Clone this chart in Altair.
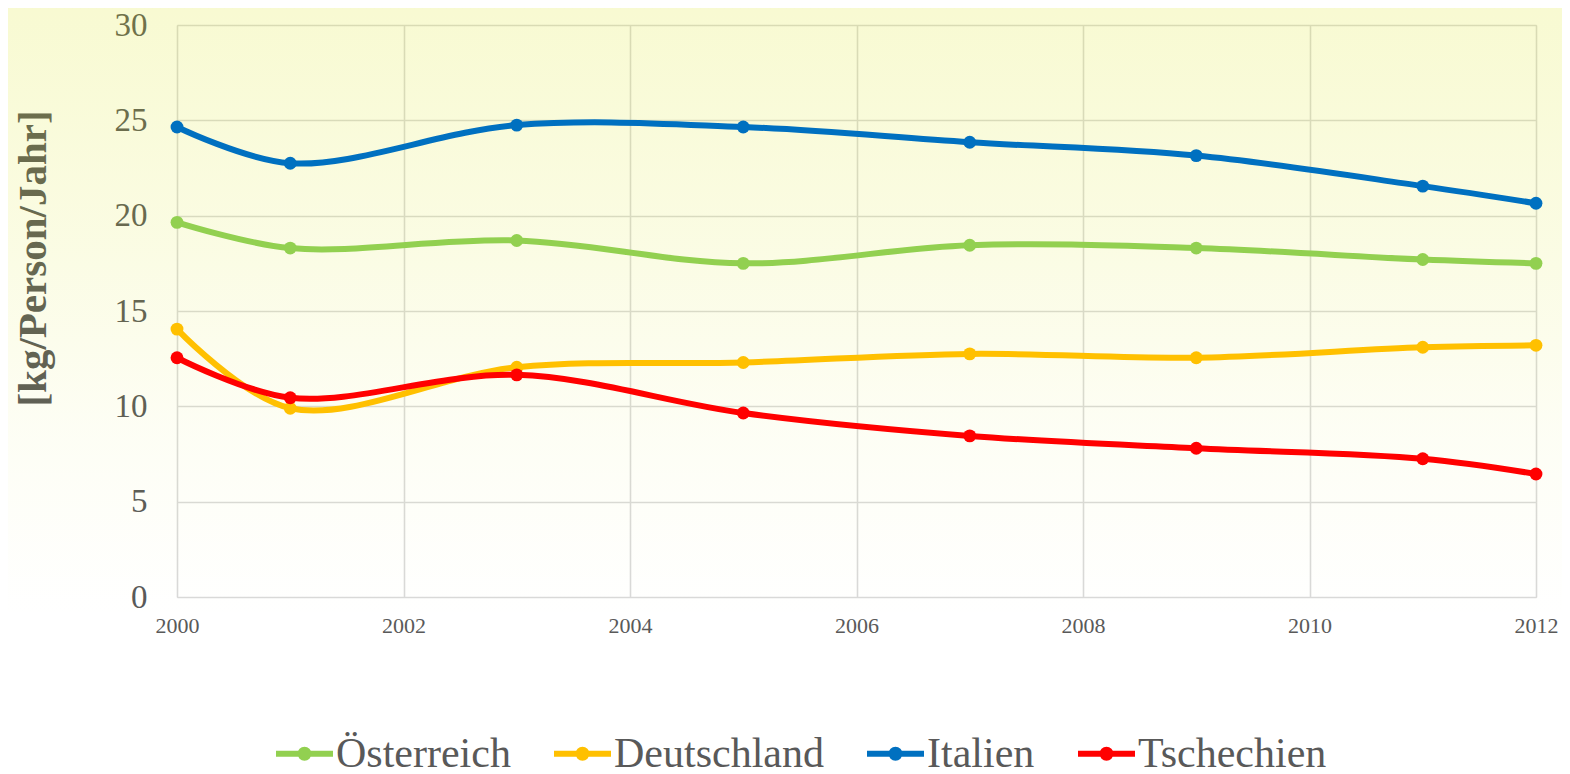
import altair as alt
import pandas as pd

years = [2000, 2001, 2003, 2005, 2007, 2009, 2011, 2012]
countries = ["Österreich", "Deutschland", "Italien", "Tschechien"]
colors = ["#92D050", "#FFC000", "#0070C0", "#FF0000"]
oesterreich = [19.65, 18.3, 18.7, 17.5, 18.45, 18.3, 17.7, 17.5]
deutschland = [14.05, 9.9, 12.05, 12.3, 12.75, 12.55, 13.1, 13.2]
italien = [24.65, 22.75, 24.75, 24.65, 23.85, 23.15, 21.55, 20.65]
tschechien = [12.55, 10.45, 11.65, 9.65, 8.45, 7.8, 7.25, 6.45]
y_ticks = [0, 5, 10, 15, 20, 25, 30]
x_ticks = [2000, 2002, 2004, 2006, 2008, 2010, 2012]

series = [oesterreich, deutschland, italien, tschechien]
rows = []
for c, vals in zip(countries, series):
    for yr, v in zip(years, vals):
        rows.append({"Jahr": yr, "Wert": v, "Land": c})
df = pd.DataFrame(rows)

W, H = 1359, 572
PL, PT, PR, PB = 169, 17, 26, 177
FONT = "Liberation Serif"
GREY = "#595959"
GRID = "#D9D9D9"

xs = alt.Scale(domain=[2000, 2012], nice=False, zero=False)
ys = alt.Scale(domain=[0, 30], nice=False)
cs = alt.Scale(domain=countries, range=colors)

# translucent yellow wash, drawn above the (behind-the-marks) axes and below the lines
grad = alt.LinearGradient(
    gradient="linear",
    stops=[
        alt.GradientStop(color="rgba(216,227,5,0.18)", offset=0),
        alt.GradientStop(color="rgba(216,227,5,0.115)", offset=0.3),
        alt.GradientStop(color="rgba(216,227,5,0.045)", offset=0.55),
        alt.GradientStop(color="rgba(216,227,5,0.0)", offset=0.8),
    ],
    x1=0, x2=0, y1=0, y2=1,
)
bg = alt.Chart(pd.DataFrame({"a": [0]})).mark_rect(fill=grad).encode(
    x=alt.value(-PL), x2=alt.value(W + PR), y=alt.value(-PT), y2=alt.value(H + PB)
)

x_axis = alt.Axis(
    values=x_ticks, format="d", labelFont=FONT, labelFontSize=22, labelColor=GREY,
    gridColor=GRID, gridWidth=1.6, domain=False, ticks=False, labelPadding=18,
    labelFlush=False, title=None,
)
y_axis = alt.Axis(
    values=y_ticks, format="d", labelFont=FONT, labelFontSize=33, labelColor=GREY,
    gridColor=GRID, gridWidth=1.6, domain=False, ticks=False, labelPadding=30,
    title="[kg/Person/Jahr]", titleFont=FONT, titleFontSize=41, titleFontWeight="bold",
    titleColor=GREY, titleAngle=270, titleX=-144, titleY=233, titleAlign="center",
    titleBaseline="middle",
)

sym = ("M-1,0H1"
       "M0.14,0A0.14,0.14 0 1,1 -0.14,0A0.14,0.14 0 1,1 0.14,0"
       "M0.05,0A0.05,0.05 0 1,1 -0.05,0A0.05,0.05 0 1,1 0.05,0")

lines = alt.Chart(df).mark_line(interpolate="catmull-rom", strokeWidth=6).encode(
    x=alt.X("Jahr:Q", scale=xs, axis=x_axis),
    y=alt.Y("Wert:Q", scale=ys, axis=y_axis),
    color=alt.Color(
        "Land:N", scale=cs, sort=countries,
        legend=alt.Legend(
            title=None, orient="none", legendX=96, legendY=697, direction="horizontal",
            labelFont=FONT, labelFontSize=42, labelColor=GREY, labelOffset=0,
            symbolType=sym, symbolSize=3249, symbolStrokeWidth=6,
            columnPadding=31, labelLimit=400,
        ),
    ),
)

points = alt.Chart(df).mark_point(filled=True, size=165, opacity=1).encode(
    x=alt.X("Jahr:Q", scale=xs, axis=x_axis),
    y=alt.Y("Wert:Q", scale=ys, axis=y_axis),
    color=alt.Color("Land:N", scale=cs, sort=countries, legend=None),
)

chart = alt.layer(bg, lines, points).properties(
    width=W, height=H,
    autosize=alt.AutoSizeParams(type="none"),
    padding={"left": PL, "top": PT, "right": PR, "bottom": PB},
).configure_view(stroke=None).configure(background="#FFFFFF")

chart.save("out.html", embed_options={"renderer": "svg", "actions": False})
